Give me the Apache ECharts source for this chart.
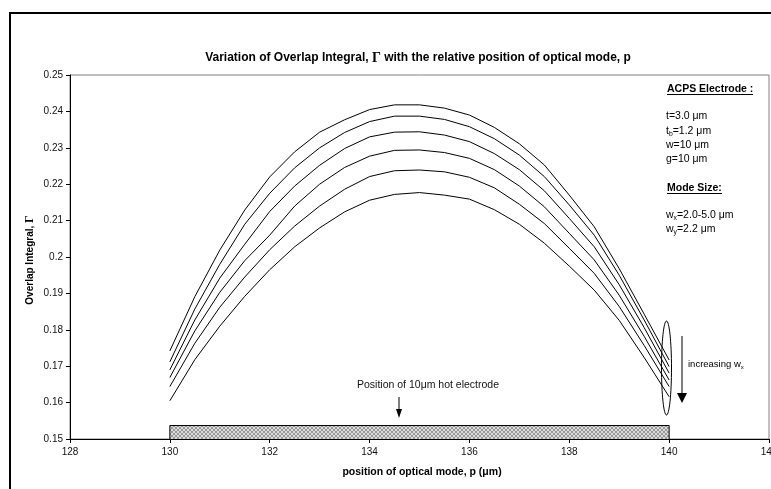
<!DOCTYPE html>
<html>
<head>
<meta charset="utf-8">
<script src="https://cdn.jsdelivr.net/npm/echarts@6/dist/echarts.min.js"></script>
<style>
  html, body { margin: 0; padding: 0; background: #fff; }
  #chart { width: 771px; height: 489px; }
</style>
</head>
<body>
<div id="chart"></div>
<script>
// position of optical mode, p (um)
const positions = [130, 130.5, 131, 131.5, 132, 132.5, 133, 133.5, 134, 134.5, 135,
  135.5, 136, 136.5, 137, 137.5, 138, 138.5, 139, 139.5, 140]

// overlap integral, one curve per mode width (top to bottom = increasing wx)
const curve1 = [0.1742, 0.1891, 0.2019, 0.2129, 0.2220, 0.2289, 0.2343, 0.2377, 0.2405, 0.2418, 0.2418,
  0.2409, 0.2390, 0.2356, 0.2311, 0.2253, 0.2170, 0.2083, 0.1968, 0.1843, 0.1717]
const curve2 = [0.1712, 0.1857, 0.1980, 0.2090, 0.2175, 0.2245, 0.2300, 0.2342, 0.2372, 0.2387, 0.2387,
  0.2378, 0.2358, 0.2325, 0.2280, 0.2221, 0.2143, 0.2060, 0.1950, 0.1827, 0.1699]
const curve3 = [0.1690, 0.1827, 0.1942, 0.2035, 0.2125, 0.2195, 0.2252, 0.2298, 0.2330, 0.2343, 0.2344,
  0.2335, 0.2317, 0.2284, 0.2240, 0.2182, 0.2106, 0.2028, 0.1924, 0.1806, 0.1681]
const curve4 = [0.1669, 0.1797, 0.1903, 0.1990, 0.2060, 0.2140, 0.2200, 0.2246, 0.2277, 0.2293, 0.2294,
  0.2287, 0.2271, 0.2240, 0.2195, 0.2138, 0.2065, 0.1992, 0.1895, 0.1782, 0.1662]
const curve5 = [0.1644, 0.1763, 0.1862, 0.1945, 0.2020, 0.2085, 0.2140, 0.2186, 0.2221, 0.2237, 0.2239,
  0.2234, 0.2219, 0.2190, 0.2145, 0.2092, 0.2024, 0.1955, 0.1864, 0.1757, 0.1644]
const curve6 = [0.1605, 0.1718, 0.1810, 0.1892, 0.1965, 0.2028, 0.2080, 0.2124, 0.2156, 0.2172, 0.2177,
  0.2170, 0.2159, 0.2130, 0.2090, 0.2038, 0.1975, 0.1909, 0.1826, 0.1724, 0.1616]
const curves = [curve1, curve2, curve3, curve4, curve5, curve6]

// hot electrode outline (10 um wide, drawn as a hatched strip on the axis)
const electrodeX = [130, 130, 140, 140]
const electrodeY = [0.15, 0.1537, 0.1537, 0.15]

const xTicks = [128, 130, 132, 134, 136, 138, 140, 142]
const yTicks = [0.15, 0.16, 0.17, 0.18, 0.19, 0.2, 0.21, 0.22, 0.23, 0.24, 0.25]

const FONT = '"Liberation Sans", Arial, sans-serif'
const SERIF = '"Liberation Serif", "DejaVu Serif", serif'

// hatch pattern for the electrode strip
const hatch = document.createElement('canvas')
hatch.width = 4
hatch.height = 4
const hctx = hatch.getContext('2d')
hctx.fillStyle = '#dcdcdc'
hctx.fillRect(0, 0, 4, 4)
hctx.fillStyle = '#999'
for (let i = 0; i < 4; i++) {
  hctx.fillRect(i, i, 1, 1)
  hctx.fillRect(3 - i, i, 1, 1)
}

const series = curves.map((c, i) => ({
  name: 'curve' + (i + 1),
  type: 'line',
  data: positions.map((p, j) => [p, c[j]]),
  showSymbol: false,
  smooth: false,
  lineStyle: { color: '#000', width: 1 },
  z: 3
}))
series.push({
  name: 'electrode',
  type: 'line',
  data: electrodeX.map((x, i) => [x, electrodeY[i]]),
  showSymbol: false,
  lineStyle: { color: '#000', width: 1 },
  areaStyle: { color: { image: hatch, repeat: 'repeat' }, opacity: 1, origin: 'start' },
  z: 2
})

const subRich = (size) => ({
  n: { fontFamily: FONT, fontSize: size, lineHeight: 13, verticalAlign: 'middle', color: '#111' },
  s: { fontFamily: FONT, fontSize: size * 0.65, lineHeight: 6, verticalAlign: 'bottom', color: '#111' }
})
const rightText = (y, rich) => ({
  type: 'text', x: 666, y: y,
  style: { text: rich, verticalAlign: 'middle', rich: subRich(10.5) }
})

const option = {
  animation: false,
  backgroundColor: '#fff',
  grid: {
    left: 70, right: 2, top: 75, bottom: 50,
    outerBoundsMode: 'none',
    containLabel: false,
    show: true, borderColor: '#808080', borderWidth: 1
  },
  xAxis: {
    type: 'value',
    min: xTicks[0], max: xTicks[xTicks.length - 1], interval: 2,
    axisLine: { lineStyle: { color: '#000', width: 1 } },
    axisTick: { show: true, inside: false, length: 4, lineStyle: { color: '#000' } },
    axisLabel: { fontFamily: FONT, fontSize: 10, color: '#111', margin: 8 },
    splitLine: { show: false }
  },
  yAxis: {
    type: 'value',
    min: yTicks[0], max: yTicks[yTicks.length - 1], interval: 0.01,
    axisLine: { show: true, lineStyle: { color: '#000', width: 1 } },
    axisTick: { show: true, inside: false, length: 4, lineStyle: { color: '#000' } },
    axisLabel: {
      fontFamily: FONT, fontSize: 10, color: '#111', margin: 7,
      formatter: v => String(parseFloat(v.toFixed(2)))
    },
    splitLine: { show: false }
  },
  series: series,
  graphic: [
    // outer chart frame (only top/left edges visible)
    { type: 'rect', shape: { x: 10, y: 13, width: 900, height: 700 },
      style: { fill: 'none', stroke: '#000', lineWidth: 2 }, silent: true },
    // title
    { type: 'text', x: 418, y: 58,
      style: {
        text: '{a|Variation of Overlap Integral, }{g|Γ}{a| with the relative position of optical mode, p}',
        align: 'center', verticalAlign: 'middle',
        rich: {
          a: { fontFamily: FONT, fontSize: 12, fontWeight: 'bold', color: '#000' },
          g: { fontFamily: SERIF, fontSize: 14, fontWeight: 'bold', color: '#000' }
        }
      } },
    // y axis name
    { type: 'text', x: 30, y: 260, rotation: Math.PI / 2,
      style: {
        text: '{a|Overlap Integral, }{g|Γ}',
        align: 'center', verticalAlign: 'middle',
        rich: {
          a: { fontFamily: FONT, fontSize: 10, fontWeight: 'bold', color: '#000' },
          g: { fontFamily: SERIF, fontSize: 12, fontWeight: 'bold', color: '#000' }
        }
      } },
    // x axis name
    { type: 'text', x: 422, y: 472,
      style: {
        text: 'position of optical mode, p (μm)', align: 'center', verticalAlign: 'middle',
        fontFamily: FONT, fontSize: 10.5, fontWeight: 'bold', fill: '#000'
      } },
    // electrode label + arrow
    { type: 'text', x: 357, y: 385,
      style: { text: 'Position of 10μm hot electrode', verticalAlign: 'middle',
        fontFamily: FONT, fontSize: 10.5, fill: '#111' } },
    { type: 'line', shape: { x1: 399, y1: 397, x2: 399, y2: 411 },
      style: { stroke: '#000', lineWidth: 1 } },
    { type: 'polygon', shape: { points: [[396, 409], [402, 409], [399, 418]] },
      style: { fill: '#000' } },
    // right-hand parameter block
    { type: 'text', x: 667, y: 89,
      style: { text: 'ACPS Electrode :', verticalAlign: 'middle',
        fontFamily: FONT, fontSize: 10.5, fontWeight: 'bold', fill: '#000' } },
    { type: 'line', shape: { x1: 667, y1: 94.5, x2: 753, y2: 94.5 }, style: { stroke: '#000', lineWidth: 1 } },
    rightText(116, '{n|t=3.0 μm}'),
    rightText(131, '{n|t}{s|b}{n|=1.2 μm}'),
    rightText(145, '{n|w=10 μm}'),
    rightText(159, '{n|g=10 μm}'),
    { type: 'text', x: 667, y: 188,
      style: { text: 'Mode Size:', verticalAlign: 'middle',
        fontFamily: FONT, fontSize: 10.5, fontWeight: 'bold', fill: '#000' } },
    { type: 'line', shape: { x1: 667, y1: 193.5, x2: 722, y2: 193.5 }, style: { stroke: '#000', lineWidth: 1 } },
    rightText(215, '{n|w}{s|x}{n|=2.0-5.0 μm}'),
    rightText(229, '{n|w}{s|y}{n|=2.2 μm}'),
    // ellipse around curve ends and "increasing wx" arrow
    { type: 'ellipse', shape: { cx: 666.5, cy: 368, rx: 5, ry: 47 },
      style: { fill: 'none', stroke: '#000', lineWidth: 1 }, z: 10 },
    { type: 'line', shape: { x1: 682, y1: 336, x2: 682, y2: 395 },
      style: { stroke: '#555', lineWidth: 1.5 } },
    { type: 'polygon', shape: { points: [[677, 393], [687, 393], [682, 403]] },
      style: { fill: '#000' } },
    { type: 'text', x: 688, y: 364,
      style: { text: '{n|increasing w}{s|x}', verticalAlign: 'middle', rich: subRich(9.5) } }
  ]
}

const chart = echarts.init(document.getElementById('chart'), null, { renderer: 'canvas' })
chart.setOption(option)
window.addEventListener('resize', chart.resize)
</script>
</body>
</html>
